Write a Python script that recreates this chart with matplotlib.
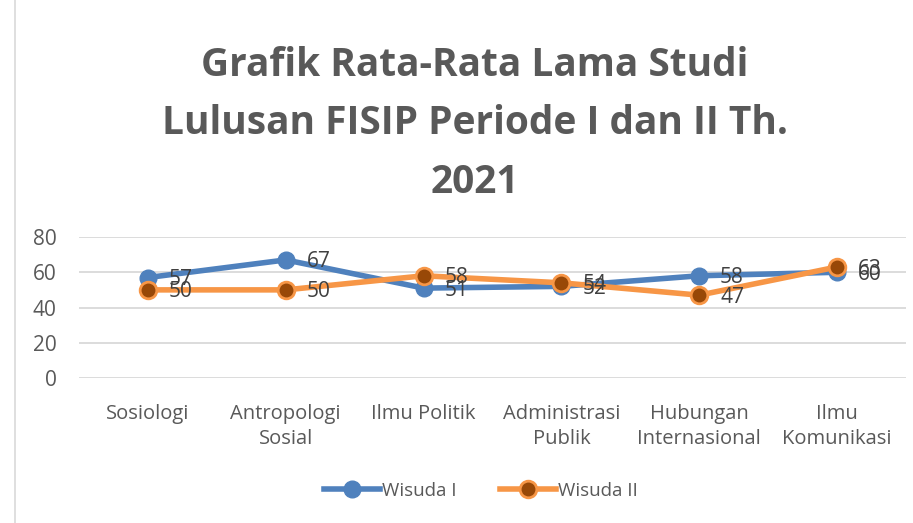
import matplotlib.pyplot as plt
from matplotlib.lines import Line2D

categories = ["Sosiologi", "Antropologi\nSosial", "Ilmu Politik", "Administrasi\nPublik",
              "Hubungan\nInternasional", "Ilmu\nKomunikasi"]
wisuda_1 = [57, 67, 51, 52, 58, 60]
wisuda_2 = [50, 50, 58, 54, 47, 63]
y_ticks = [0, 20, 40, 60, 80]

plt.rcParams["font.family"] = ["Open Sans", "DejaVu Sans"]

blue = "#4F81BD"
orange = "#F79646"
brown = "#984807"
text_gray = "#595959"

fig = plt.figure(figsize=(9.13, 5.23), dpi=100)
ax = fig.add_axes([79 / 913, 1 - 378 / 523, 827 / 913, 141 / 523])

x = list(range(len(categories)))
ax.plot(x, wisuda_1, color=blue, lw=4, marker="o", ms=12, mfc=blue, mec=blue,
        solid_capstyle="round", zorder=3)
ax.plot(x, wisuda_2, color=orange, lw=4, marker="o", ms=12, mfc=brown, mec=orange,
        mew=2, solid_capstyle="round", zorder=4)

for xi, v in zip(x, wisuda_1):
    ax.annotate(str(v), (xi, v), xytext=(15, -1.5), textcoords="offset points",
                va="center", ha="left", fontsize=15, color="#404040", zorder=5)
for xi, v in zip(x, wisuda_2):
    ax.annotate(str(v), (xi, v), xytext=(15, -1.5), textcoords="offset points",
                va="center", ha="left", fontsize=15, color="#404040", zorder=5)

ax.set_xlim(-0.5, len(categories) - 0.5)
ax.set_ylim(0, 80)
ax.set_yticks(y_ticks)
ax.set_xticks(x)
ax.set_xticklabels(categories, fontsize=14.5, color=text_gray, linespacing=1.3)
ax.tick_params(axis="y", labelsize=15, labelcolor=text_gray, length=0, pad=16)
ax.tick_params(axis="x", length=0, pad=19)
ax.grid(axis="y", color="#D9D9D9", lw=1.3)
ax.set_axisbelow(True)
for s in ax.spines.values():
    s.set_visible(False)

fig.text(475 / 913, 1 - 124 / 523,
         "Grafik Rata-Rata Lama Studi\nLulusan FISIP Periode I dan II Th.\n2021",
         ha="center", va="center", fontsize=28, fontweight="bold", color=text_gray,
         linespacing=1.66)

# chart border on the left
fig.add_artist(Line2D([15 / 913, 15 / 913], [0, 1], color="#D9D9D9", lw=1.2))

handles = [
    Line2D([], [], color=blue, lw=4, marker="o", ms=12, mfc=blue, mec=blue),
    Line2D([], [], color=orange, lw=4, marker="o", ms=12, mfc=brown, mec=orange, mew=2),
]
fig.legend(handles, ["Wisuda I", "Wisuda II"], loc="center", bbox_to_anchor=(481 / 913, 1 - 491 / 523),
           ncol=2, frameon=False, fontsize=13.5, labelcolor=text_gray, handlelength=3.0,
           handletextpad=0.1, columnspacing=2.3)

fig.savefig("out.png", dpi=100)
